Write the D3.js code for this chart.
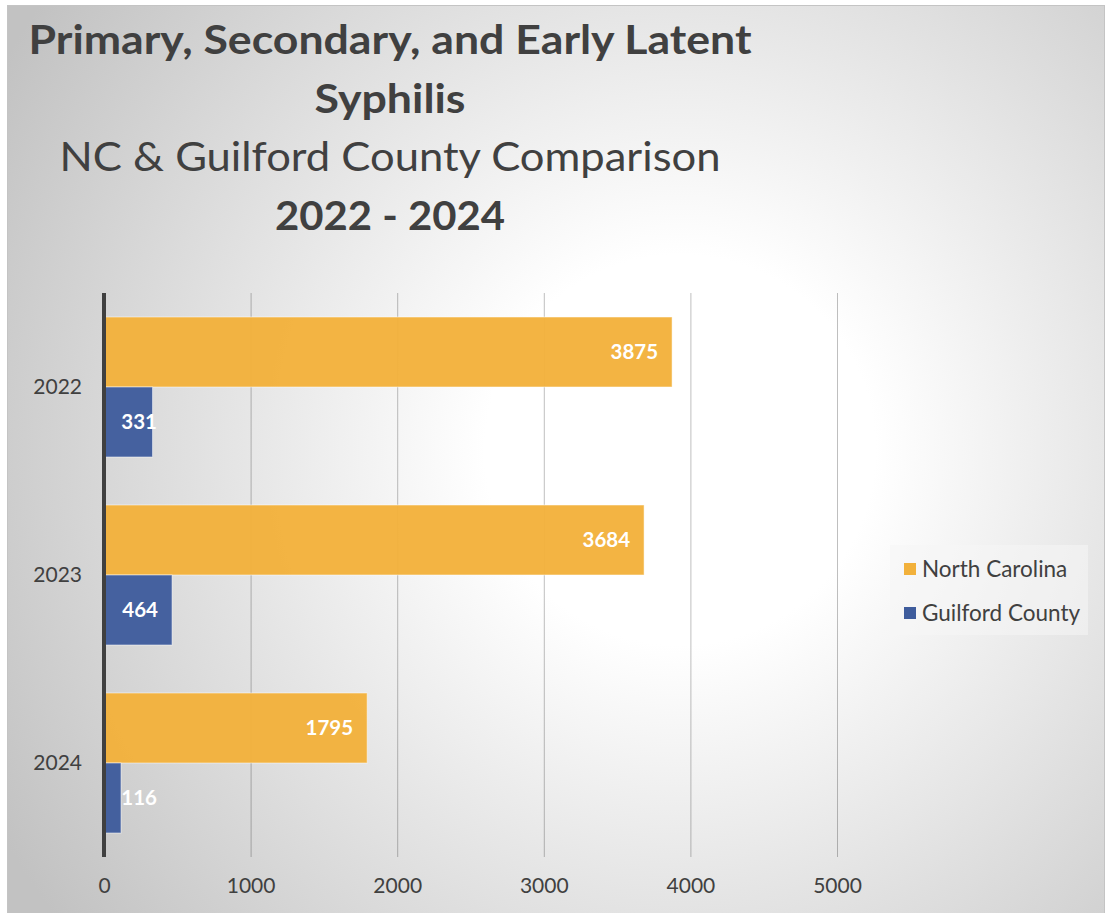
<!DOCTYPE html>
<html><head><meta charset="utf-8">
<script src="https://cdn.jsdelivr.net/npm/d3@7"></script>
<style>body{margin:0;background:#fff}svg{display:block}</style>
</head><body>
<svg id="c" width="1116" height="913"></svg>
<script>
const years = ["2022", "2023", "2024"];
const seriesNames = ["North Carolina", "Guilford County"];
const northCarolina = [3875, 3684, 1795];
const guilfordCounty = [331, 464, 116];
const xTicks = [0, 1000, 2000, 3000, 4000, 5000];
const colors = ["#F2B13B", "#3E5C9C"];
const titleLines = [
  {t: "Primary, Secondary, and Early Latent", w: "bold", y: 54, len: 723},
  {t: "Syphilis", w: "bold", y: 113, len: 151},
  {t: "NC & Guilford County Comparison", w: "normal", y: 171, len: 661},
  {t: "2022 - 2024", w: "bold", y: 230, len: 230}
];

const svg = d3.select("#c");
const font = "Lato, 'Open Sans', sans-serif";
const defs = svg.append("defs");
const rg = defs.append("radialGradient").attr("id","bg")
  .attr("gradientUnits","userSpaceOnUse").attr("cx",680).attr("cy",450).attr("r",780);
rg.append("stop").attr("offset","0").attr("stop-color","#ffffff");
rg.append("stop").attr("offset","0.25").attr("stop-color","#ffffff");
rg.append("stop").attr("offset","1").attr("stop-color","#c2c2c2");

svg.append("rect").attr("x",7.5).attr("y",5.5).attr("width",1097).attr("height",912)
  .attr("fill","url(#bg)").attr("stroke","#c4c4c4").attr("stroke-width",1);

titleLines.forEach(l => {
  svg.append("text").attr("x",390).attr("y",l.y).attr("text-anchor","middle")
    .attr("font-family",font).attr("font-size",40).attr("font-weight",l.w)
    .attr("fill","#404040").attr("textLength",l.len).attr("lengthAdjust","spacingAndGlyphs")
    .text(l.t);
});

const x = d3.scaleLinear().domain([0,5000]).range([104,837]);
const y0 = d3.scaleBand().domain(years).range([293,857]).padding(0);
const y1 = d3.scaleBand().domain(seriesNames).range([0,y0.bandwidth()]).paddingInner(0).paddingOuter(0.343);

// gridlines
const grid = svg.append("g").attr("transform","translate(0,857)")
  .call(d3.axisBottom(x).tickValues(xTicks.slice(1)).tickSize(-564).tickFormat(""));
grid.select(".domain").remove();
grid.selectAll("line").attr("stroke","rgba(0,0,0,0.25)").attr("stroke-width",1);

const data = years.map((yr,i) => ({year: yr, vals: [northCarolina[i], guilfordCounty[i]]}));

const groups = svg.append("g").selectAll("g").data(data).join("g")
  .attr("transform", d => `translate(0,${y0(d.year)})`);
groups.selectAll("rect").data(d => d.vals.map((v,j)=>({v, s: seriesNames[j], j})))
  .join("rect")
  .attr("x", x(0)).attr("y", d => y1(d.s)).attr("width", d => x(d.v)-x(0))
  .attr("height", y1.bandwidth()).attr("fill", d => colors[d.j]).attr("fill-opacity",0.96)
  .attr("stroke","rgba(255,255,255,0.5)").attr("stroke-width",1);
groups.selectAll("text").data(d => d.vals.map((v,j)=>({v, s: seriesNames[j], j})))
  .join("text")
  .attr("x", d => Math.max(x(d.v)-14, 157)).attr("y", d => y1(d.s)+y1.bandwidth()/2)
  .attr("dy","0.35em").attr("text-anchor","end")
  .attr("font-family",font).attr("font-size",20.5).attr("font-weight","bold").attr("fill","#fff")
  .text(d => d.v);

// axis line
svg.append("line").attr("x1",x(0)).attr("x2",x(0)).attr("y1",293).attr("y2",857)
  .attr("stroke","#404040").attr("stroke-width",4);

// x tick labels
const xa = svg.append("g").attr("transform","translate(0,857)")
  .call(d3.axisBottom(x).tickValues(xTicks).tickSize(0).tickPadding(21).tickFormat(d3.format("d")));
xa.select(".domain").remove();
xa.selectAll("text").attr("font-family",font).attr("font-size",21).attr("fill","#404040");

// y labels
const ya = svg.append("g").attr("transform","translate(82,0)")
  .call(d3.axisLeft(y0).tickSize(0).tickPadding(0));
ya.select(".domain").remove();
ya.selectAll("text").attr("font-family",font).attr("font-size",21).attr("fill","#404040");

// legend
const lg = svg.append("g");
lg.append("rect").attr("x",890).attr("y",545).attr("width",198).attr("height",90)
  .attr("fill","rgba(245,245,245,0.55)");
seriesNames.forEach((s,i) => {
  lg.append("rect").attr("x",904).attr("y",563+i*44).attr("width",12).attr("height",12)
    .attr("fill",colors[i]);
  lg.append("text").attr("x",922).attr("y",569+i*44).attr("dy","0.35em")
    .attr("font-family",font).attr("font-size",22.5).attr("fill","#404040").text(s);
});
</script>
</body></html>
